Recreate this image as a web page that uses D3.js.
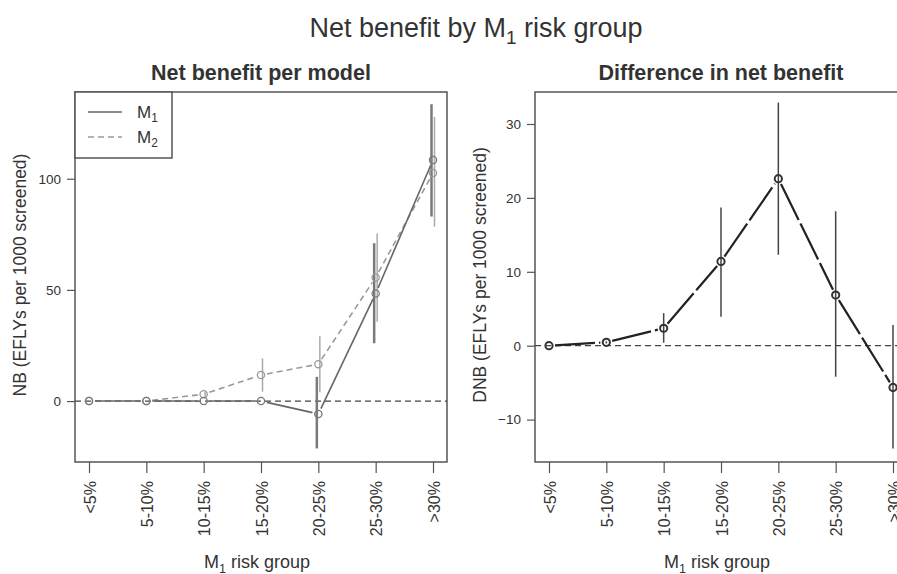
<!DOCTYPE html>
<html><head><meta charset="utf-8">
<script src="https://cdn.jsdelivr.net/npm/d3@7"></script>
<style>
body{margin:0;background:#fff;}
svg text{font-family:"Liberation Sans",Arial,sans-serif;fill:#333;}
</style></head>
<body><svg id="c" width="897" height="574"></svg>
<script>
// ---- data ----
const categories = ["<5%","5-10%","10-15%","15-20%","20-25%","25-30%",">30%"];
const nbM1      = [0, 0, 0, 0, -5.8, 48.4, 108.4];
const nbM1Lo    = [0, 0, 0, 0, -21.3, 26.0, 83.0];
const nbM1Hi    = [0, 0, 0, 0, 10.9, 71.0, 133.5];
const nbM2      = [0, 0, 3.1, 11.7, 16.6, 55.6, 102.6];
const nbM2Lo    = [0, 0, 2.0, 4.2, 4.0, 35.7, 78.4];
const nbM2Hi    = [0, 0, 4.2, 19.2, 29.2, 75.4, 127.8];
const dnb       = [0, 0.46, 2.36, 11.4, 22.6, 6.85, -5.65];
const dnbLo     = [0, 0.3, 0.4, 3.9, 12.3, -4.2, -13.9];
const dnbHi     = [0, 0.6, 4.4, 18.7, 32.9, 18.2, 2.8];
const nbTicks   = [0, 50, 100];
const dnbTicks  = [-10, 0, 10, 20, 30];

const svg = d3.select("#c");

function sub(sel, main, s, rest, fs){
  sel.append("tspan").text(main);
  sel.append("tspan").attr("font-size", fs*0.7).attr("dy", fs*0.25).text(s);
  sel.append("tspan").attr("dy", -fs*0.25).text(rest);
}

// main title
const t = svg.append("text").attr("x", 476).attr("y", 37).attr("text-anchor","middle")
  .attr("font-size", 27).attr("fill","#333");
sub(t, "Net benefit by M", "1", " risk group", 27);

function panel(left, title, ylab, domain, ticks){
  const top = 92, bottom = 462, right = left + 372;
  const x = d3.scalePoint().domain(categories).range([left + 14, right - 14]);
  const y = d3.scaleLinear().domain(domain).range([bottom, top]);
  const g = svg.append("g");
  // box
  g.append("rect").attr("x", left).attr("y", top).attr("width", right-left).attr("height", bottom-top)
    .attr("fill","none").attr("stroke","#555").attr("stroke-width",1.5);
  // y axis
  const ya = g.append("g").attr("transform",`translate(${left},0)`)
    .call(d3.axisLeft(y).tickValues(ticks).tickSize(8).tickPadding(6).tickFormat(d3.format("d")));
  ya.select(".domain").remove();
  ya.selectAll("line").attr("stroke","#555").attr("stroke-width",1.2);
  ya.selectAll("text").attr("font-size",13.5).attr("fill","#444")
    .style("font-family","'Liberation Sans',Arial,sans-serif");
  // x axis
  const xa = g.append("g").attr("transform",`translate(0,${bottom})`)
    .call(d3.axisBottom(x).tickSize(11).tickPadding(0));
  xa.select(".domain").remove();
  xa.selectAll("line").attr("stroke","#555").attr("stroke-width",1.2);
  xa.selectAll("text").attr("font-size",16).attr("fill","#444")
    .style("font-family","'Liberation Sans',Arial,sans-serif")
    .attr("text-anchor","end").attr("dy",null)
    .attr("transform","translate(6,19) rotate(-90)").attr("y",0).attr("x",0);
  // titles
  g.append("text").attr("x",(left+right)/2).attr("y",80).attr("text-anchor","middle")
    .attr("font-size",21.5).attr("font-weight","bold").attr("fill","#222").text(title);
  const xl = g.append("text").attr("x",(left+right)/2 - 4).attr("y",568).attr("text-anchor","middle")
    .attr("font-size",18).attr("fill","#444");
  sub(xl, "M", "1", " risk group", 18);
  g.append("text").attr("transform",`translate(${left-49},${(top+bottom)/2 - 2}) rotate(-90)`)
    .attr("text-anchor","middle").attr("font-size",17.5).attr("fill","#444").text(ylab);
  // zero reference
  g.append("line").attr("x1",left).attr("x2",right).attr("y1",y(0)).attr("y2",y(0))
    .attr("stroke","#444").attr("stroke-width",1.3).attr("stroke-dasharray","6,4");
  return {g, x, y};
}

// type "b" lines: segments with gaps around points
function gapLines(g, x, y, vals, style, dx){
  const gap = 6;
  for(let i=0;i<vals.length-1;i++){
    const x1 = x(categories[i])+dx, y1 = y(vals[i]);
    const x2 = x(categories[i+1])+dx, y2 = y(vals[i+1]);
    const L = Math.hypot(x2-x1, y2-y1);
    if (L <= 2*gap) continue;
    const ux = (x2-x1)/L, uy = (y2-y1)/L;
    const ln = g.append("line").attr("x1",x1+ux*gap).attr("y1",y1+uy*gap)
      .attr("x2",x2-ux*gap).attr("y2",y2-uy*gap);
    Object.entries(style).forEach(([k,v])=>ln.attr(k,v));
  }
}
function bars(g, x, y, lo, hi, dx, color, w){
  g.selectAll(null).data(categories).enter().append("line")
    .attr("x1",d=>x(d)+dx).attr("x2",d=>x(d)+dx)
    .attr("y1",(d,i)=>y(lo[i])).attr("y2",(d,i)=>y(hi[i]))
    .attr("stroke",color).attr("stroke-width",w);
}
function pts(g, x, y, vals, dx, color, w){
  g.selectAll(null).data(categories).enter().append("circle")
    .attr("cx",d=>x(d)+dx).attr("cy",(d,i)=>y(vals[i])).attr("r",3.6)
    .attr("fill","none").attr("stroke",color).attr("stroke-width",w);
}

// left panel
const L = panel(75, "Net benefit per model", "NB (EFLYs per 1000 screened)", [-27.4, 139], nbTicks);
bars(L.g, L.x, L.y, nbM2Lo, nbM2Hi, 1.5, "#aaa", 1.5);
bars(L.g, L.x, L.y, nbM1Lo, nbM1Hi, -1.5, "#7a7a7a", 2.5);
gapLines(L.g, L.x, L.y, nbM2, {"stroke":"#9a9a9a","stroke-width":1.6,"stroke-dasharray":"6,4"}, 0);
gapLines(L.g, L.x, L.y, nbM1, {"stroke":"#666","stroke-width":1.6}, 0);
pts(L.g, L.x, L.y, nbM2, 0, "#999", 1.3);
pts(L.g, L.x, L.y, nbM1, 0, "#777", 1.3);
// legend
const lg = L.g.append("g");
lg.append("rect").attr("x",75).attr("y",92).attr("width",97).attr("height",66)
  .attr("fill","#fff").attr("stroke","#555").attr("stroke-width",1.5);
lg.append("line").attr("x1",88).attr("x2",122).attr("y1",112).attr("y2",112)
  .attr("stroke","#666").attr("stroke-width",1.6);
lg.append("line").attr("x1",88).attr("x2",122).attr("y1",137).attr("y2",137)
  .attr("stroke","#9a9a9a").attr("stroke-width",1.6).attr("stroke-dasharray","6,4");
const l1 = lg.append("text").attr("x",137).attr("y",118).attr("font-size",17).attr("fill","#444");
sub(l1, "M", "1", "", 17);
const l2 = lg.append("text").attr("x",137).attr("y",143).attr("font-size",17).attr("fill","#444");
sub(l2, "M", "2", "", 17);

// right panel
const R = panel(535, "Difference in net benefit", "DNB (EFLYs per 1000 screened)", [-15.74, 34.33], dnbTicks);
bars(R.g, R.x, R.y, dnbLo, dnbHi, 0, "#444", 1.5);
gapLines(R.g, R.x, R.y, dnb, {"stroke":"#222","stroke-width":2.2,"stroke-dasharray":"40,4"}, 0);
pts(R.g, R.x, R.y, dnb, 0, "#333", 2);
</script></body></html>
